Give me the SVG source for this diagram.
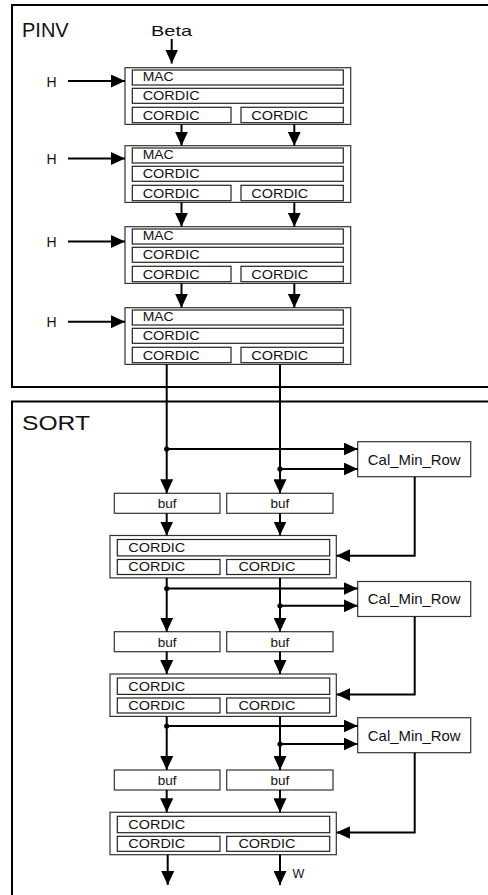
<svg xmlns="http://www.w3.org/2000/svg" width="488" height="895" viewBox="0 0 488 895">
<defs>
<marker id="ah" markerUnits="userSpaceOnUse" markerWidth="14" markerHeight="13" refX="14" refY="6.5" orient="auto">
<path d="M0,0 L14,6.5 L0,13 z" fill="#000"/>
</marker>
<style>
.fr{fill:none;stroke:#000;stroke-width:2}
.ob{fill:#fff;stroke:#333;stroke-width:1.2}
.ib{fill:#fff;stroke:#222;stroke-width:1.2}
.c{fill:none;stroke:#000;stroke-width:2}
.ca{fill:none;stroke:#000;stroke-width:2;marker-end:url(#ah)}
text{font-family:"Liberation Sans",Arial,sans-serif;fill:#111}
.t{font-size:13.5px}
.big{font-size:20px}
.cal{font-size:15px}
</style>
</defs>
<rect width="488" height="895" fill="#fff"/>
<g id="frames">
<rect class="fr" x="12" y="5" width="480" height="382"/>
<rect class="fr" x="12" y="401.5" width="480" height="500"/>
<text class="big" x="22" y="37">PINV</text>
<text class="big" x="22" y="429.5" font-size="21" textLength="68" lengthAdjust="spacingAndGlyphs">SORT</text>
</g>
<g id="labels">
<text x="151" y="36" font-size="15" textLength="41" lengthAdjust="spacingAndGlyphs">Beta</text>
<text x="46.5" y="86.5" font-size="14">H</text>
<text x="46.5" y="164" font-size="14">H</text>
<text x="46.5" y="246.5" font-size="14">H</text>
<text x="46.5" y="327" font-size="14">H</text>
<text x="292.5" y="878" font-size="12.5">W</text>
</g>
<g id="pinv1">
<rect class="ob" x="125" y="67.7" width="225.7" height="56.7"/>
<rect class="ib" x="132.3" y="70" width="211" height="15"/>
<rect class="ib" x="132.3" y="88.3" width="211" height="15"/>
<rect class="ib" x="132.3" y="107.3" width="98.7" height="15.4"/>
<rect class="ib" x="241" y="107.3" width="102.3" height="15.4"/>
<text class="t" x="142.7" y="81" textLength="31" lengthAdjust="spacingAndGlyphs">MAC</text>
<text class="t" x="142.7" y="100" textLength="57" lengthAdjust="spacingAndGlyphs">CORDIC</text>
<text class="t" x="142.7" y="120" textLength="57" lengthAdjust="spacingAndGlyphs">CORDIC</text>
<text class="t" x="251.3" y="120" textLength="57" lengthAdjust="spacingAndGlyphs">CORDIC</text>
</g>
<g id="pinv2">
<rect class="ob" x="125" y="145.7" width="225.7" height="56.7"/>
<rect class="ib" x="132.3" y="148" width="211" height="15"/>
<rect class="ib" x="132.3" y="166.3" width="211" height="15"/>
<rect class="ib" x="132.3" y="185.3" width="98.7" height="15.4"/>
<rect class="ib" x="241" y="185.3" width="102.3" height="15.4"/>
<text class="t" x="142.7" y="159" textLength="31" lengthAdjust="spacingAndGlyphs">MAC</text>
<text class="t" x="142.7" y="178" textLength="57" lengthAdjust="spacingAndGlyphs">CORDIC</text>
<text class="t" x="142.7" y="198" textLength="57" lengthAdjust="spacingAndGlyphs">CORDIC</text>
<text class="t" x="251.3" y="198" textLength="57" lengthAdjust="spacingAndGlyphs">CORDIC</text>
</g>
<g id="pinv3">
<rect class="ob" x="125" y="226.7" width="225.7" height="56.7"/>
<rect class="ib" x="132.3" y="229" width="211" height="15"/>
<rect class="ib" x="132.3" y="247.3" width="211" height="15"/>
<rect class="ib" x="132.3" y="266.3" width="98.7" height="15.4"/>
<rect class="ib" x="241" y="266.3" width="102.3" height="15.4"/>
<text class="t" x="142.7" y="240" textLength="31" lengthAdjust="spacingAndGlyphs">MAC</text>
<text class="t" x="142.7" y="259" textLength="57" lengthAdjust="spacingAndGlyphs">CORDIC</text>
<text class="t" x="142.7" y="279" textLength="57" lengthAdjust="spacingAndGlyphs">CORDIC</text>
<text class="t" x="251.3" y="279" textLength="57" lengthAdjust="spacingAndGlyphs">CORDIC</text>
</g>
<g id="pinv4">
<rect class="ob" x="125" y="307.7" width="225.7" height="56.7"/>
<rect class="ib" x="132.3" y="310" width="211" height="15"/>
<rect class="ib" x="132.3" y="328.3" width="211" height="15"/>
<rect class="ib" x="132.3" y="347.3" width="98.7" height="15.4"/>
<rect class="ib" x="241" y="347.3" width="102.3" height="15.4"/>
<text class="t" x="142.7" y="321" textLength="31" lengthAdjust="spacingAndGlyphs">MAC</text>
<text class="t" x="142.7" y="340" textLength="57" lengthAdjust="spacingAndGlyphs">CORDIC</text>
<text class="t" x="142.7" y="360" textLength="57" lengthAdjust="spacingAndGlyphs">CORDIC</text>
<text class="t" x="251.3" y="360" textLength="57" lengthAdjust="spacingAndGlyphs">CORDIC</text>
</g>
<g id="cal1">
<rect class="ob" x="357.7" y="441.7" width="113" height="35"/>
<text class="cal" x="414.2" y="464.5" text-anchor="middle" textLength="92.7" lengthAdjust="spacingAndGlyphs">Cal_Min_Row</text>
</g>
<g id="cal2">
<rect class="ob" x="357.7" y="581.5" width="113" height="35"/>
<text class="cal" x="414.2" y="604.3" text-anchor="middle" textLength="92.7" lengthAdjust="spacingAndGlyphs">Cal_Min_Row</text>
</g>
<g id="cal3">
<rect class="ob" x="357.7" y="717.7" width="113" height="35"/>
<text class="cal" x="414.2" y="740.5" text-anchor="middle" textLength="92.7" lengthAdjust="spacingAndGlyphs">Cal_Min_Row</text>
</g>
<g id="buf1">
<rect class="ob" x="114.3" y="493.3" width="105.7" height="20"/>
<rect class="ob" x="226.7" y="493.3" width="106.3" height="20"/>
<text class="t" x="167.2" y="508.3" text-anchor="middle">buf</text>
<text class="t" x="279.9" y="508.3" text-anchor="middle">buf</text>
</g>
<g id="buf2">
<rect class="ob" x="114.3" y="631.7" width="105.7" height="20"/>
<rect class="ob" x="226.7" y="631.7" width="106.3" height="20"/>
<text class="t" x="167.2" y="646.7" text-anchor="middle">buf</text>
<text class="t" x="279.9" y="646.7" text-anchor="middle">buf</text>
</g>
<g id="buf3">
<rect class="ob" x="114.3" y="770" width="105.7" height="20"/>
<rect class="ob" x="226.7" y="770" width="106.3" height="20"/>
<text class="t" x="167.2" y="785" text-anchor="middle">buf</text>
<text class="t" x="279.9" y="785" text-anchor="middle">buf</text>
</g>
<g id="sort1">
<rect class="ob" x="110" y="535.5" width="226.3" height="42.4"/>
<rect class="ib" x="117.3" y="539.5" width="212.4" height="16.4"/>
<rect class="ib" x="117.3" y="559.5" width="102.7" height="15"/>
<rect class="ib" x="226.7" y="559.5" width="103" height="15"/>
<text class="t" x="128.3" y="552" textLength="57" lengthAdjust="spacingAndGlyphs">CORDIC</text>
<text class="t" x="128.3" y="571.2" textLength="57" lengthAdjust="spacingAndGlyphs">CORDIC</text>
<text class="t" x="238.4" y="571.2" textLength="57" lengthAdjust="spacingAndGlyphs">CORDIC</text>
</g>
<g id="sort2">
<rect class="ob" x="110" y="674" width="226.3" height="42.4"/>
<rect class="ib" x="117.3" y="678" width="212.4" height="16.4"/>
<rect class="ib" x="117.3" y="698" width="102.7" height="15"/>
<rect class="ib" x="226.7" y="698" width="103" height="15"/>
<text class="t" x="128.3" y="690.5" textLength="57" lengthAdjust="spacingAndGlyphs">CORDIC</text>
<text class="t" x="128.3" y="709.7" textLength="57" lengthAdjust="spacingAndGlyphs">CORDIC</text>
<text class="t" x="238.4" y="709.7" textLength="57" lengthAdjust="spacingAndGlyphs">CORDIC</text>
</g>
<g id="sort3">
<rect class="ob" x="110" y="812.3" width="226.3" height="42.4"/>
<rect class="ib" x="117.3" y="816.3" width="212.4" height="16.4"/>
<rect class="ib" x="117.3" y="836.3" width="102.7" height="15"/>
<rect class="ib" x="226.7" y="836.3" width="103" height="15"/>
<text class="t" x="128.3" y="828.8" textLength="57" lengthAdjust="spacingAndGlyphs">CORDIC</text>
<text class="t" x="128.3" y="848" textLength="57" lengthAdjust="spacingAndGlyphs">CORDIC</text>
<text class="t" x="238.4" y="848" textLength="57" lengthAdjust="spacingAndGlyphs">CORDIC</text>
</g>
<g id="connectors">
<line class="ca" x1="171.7" y1="39" x2="171.7" y2="63.5"/>
<line class="ca" x1="68" y1="81" x2="125" y2="81"/>
<line class="ca" x1="68" y1="158.5" x2="125" y2="158.5"/>
<line class="ca" x1="68" y1="241.5" x2="125" y2="241.5"/>
<line class="ca" x1="68" y1="321.7" x2="125" y2="321.7"/>
<line class="ca" x1="181.5" y1="124.4" x2="181.5" y2="145.7"/>
<line class="ca" x1="294.3" y1="124.4" x2="294.3" y2="145.7"/>
<line class="ca" x1="181.5" y1="202.4" x2="181.5" y2="226.7"/>
<line class="ca" x1="294.3" y1="202.4" x2="294.3" y2="226.7"/>
<line class="ca" x1="181.5" y1="283.4" x2="181.5" y2="307.7"/>
<line class="ca" x1="294.3" y1="283.4" x2="294.3" y2="307.7"/>
<line class="ca" x1="166.7" y1="364.4" x2="166.7" y2="493.3"/>
<line class="ca" x1="280" y1="364.4" x2="280" y2="493.3"/>
<line class="ca" x1="166.7" y1="449" x2="357.7" y2="449"/>
<line class="ca" x1="280" y1="469" x2="357.7" y2="469"/>
<circle cx="166.7" cy="449" r="2.6"/>
<circle cx="280" cy="469" r="2.6"/>
<polyline class="ca" points="414.7,476.7 414.7,555.7 336.3,555.7"/>
<line class="ca" x1="166.7" y1="513.3" x2="166.7" y2="535.5"/>
<line class="ca" x1="280" y1="513.3" x2="280" y2="535.5"/>
<line class="ca" x1="166.7" y1="577.9" x2="166.7" y2="631.7"/>
<line class="ca" x1="280" y1="577.9" x2="280" y2="631.7"/>
<line class="ca" x1="166.7" y1="588.5" x2="357.7" y2="588.5"/>
<line class="ca" x1="280" y1="605.8" x2="357.7" y2="605.8"/>
<circle cx="166.7" cy="588.5" r="2.6"/>
<circle cx="280" cy="605.8" r="2.6"/>
<polyline class="ca" points="414.7,616.5 414.7,694.5 336.3,694.5"/>
<line class="ca" x1="166.7" y1="651.7" x2="166.7" y2="674"/>
<line class="ca" x1="280" y1="651.7" x2="280" y2="674"/>
<line class="ca" x1="166.7" y1="716.4" x2="166.7" y2="770"/>
<line class="ca" x1="280" y1="716.4" x2="280" y2="770"/>
<line class="ca" x1="166.7" y1="726" x2="357.7" y2="726"/>
<line class="ca" x1="280" y1="744" x2="357.7" y2="744"/>
<circle cx="166.7" cy="726" r="2.6"/>
<circle cx="280" cy="744" r="2.6"/>
<polyline class="ca" points="414.7,752.7 414.7,832.5 336.3,832.5"/>
<line class="ca" x1="166.7" y1="790" x2="166.7" y2="812.3"/>
<line class="ca" x1="280" y1="790" x2="280" y2="812.3"/>
<line class="ca" x1="167.7" y1="854.7" x2="167.7" y2="885"/>
<line class="ca" x1="280" y1="854.7" x2="280" y2="885"/>
</g>
</svg>
